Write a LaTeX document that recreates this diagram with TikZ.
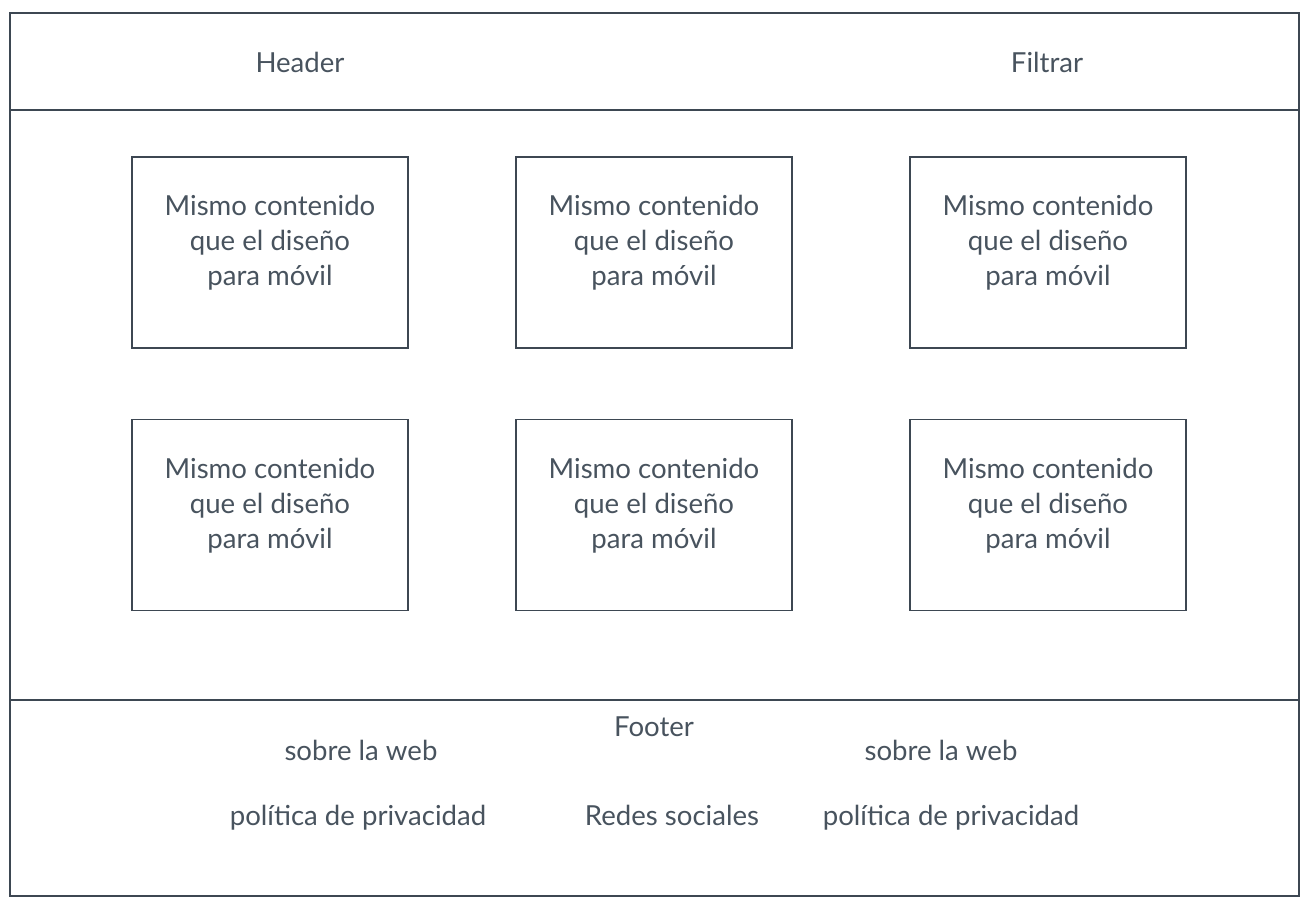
\documentclass[tikz,border=0pt]{standalone}
\usepackage{fontspec}
\setmainfont{Lato}
\definecolor{wireline}{HTML}{3D4752}
\definecolor{wiretext}{HTML}{48535E}
\begin{document}
\begin{tikzpicture}[
        x=0.02cm, y=-0.02cm,
        font=\fontsize{15.7}{19.9}\selectfont, text=wiretext,
        frame/.style={draw=wireline, line width=1.1pt},
        caption/.style={text height=12.6pt, text depth=2.4pt, inner sep=0pt},
        card/.style={draw=wireline, line width=1.1pt, minimum width=5.52cm, minimum height=3.82cm, inner sep=0pt},
        cardtext/.style={align=center, inner sep=0pt}
    ]
        \useasboundingbox (0,0) rectangle (1312,908);

        % page frame with header and footer bands
        \draw[frame] (10,13) rectangle (1299,896);
        \draw[frame] (10,110) -- (1299,110);
        \draw[frame] (10,700) -- (1299,700);

        \node[caption] (header) at (300,64) {Header};
        \node[caption] (filter) at (1047,64) {Filtrar};

        \foreach \row/\y in {1/252.5,2/515} {
            \foreach \column/\x in {1/270,2/654,3/1048} {
                \node[card] (card\row\column) at (\x,\y) {};
                \node[cardtext] (cardText\row\column)
                    at ([yshift=5.5pt]card\row\column.center)
                    {Mismo contenido\\que el diseño\\para móvil};
            }
        }

        \node[caption] (footer) at (654,728) {Footer};
        \node[caption] (aboutLeft) at (361,752) {sobre la web};
        \node[caption] (aboutRight) at (941,752) {sobre la web};
        \node[caption] (privacyLeft) at (358,817) {política de privacidad};
        \node[caption] (social) at (672,817) {Redes sociales};
        \node[caption] (privacyRight) at (951,817) {política de privacidad};
    \end{tikzpicture}
\end{document}
